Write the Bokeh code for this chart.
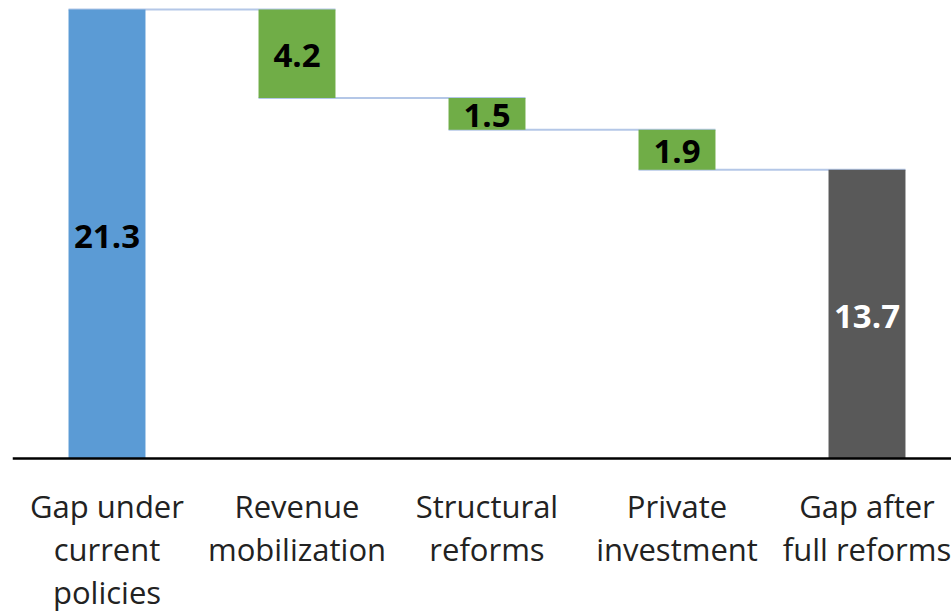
from bokeh.plotting import figure
from bokeh.models import ColumnDataSource, Range1d, Span
from bokeh.core.properties import value
from bokeh.embed import file_html
from bokeh.resources import INLINE

categories = ["Gap under\ncurrent\npolicies", "Revenue\nmobilization", "Structural\nreforms",
              "Private\ninvestment", "Gap after\nfull reforms"]
changes = [21.3, -4.2, -1.5, -1.9, 13.7]
kinds = ["total", "step", "step", "step", "total"]
value_labels = ["21.3", "4.2", "1.5", "1.9", "13.7"]
colors = {"total_first": "#5b9bd5", "step": "#70ad47", "total_last": "#595959"}

# waterfall geometry from data
bottoms, tops, levels = [], [], []
level = 0.0
for c, k in zip(changes, kinds):
    if k == "total":
        b, t = 0.0, c
        level = c
    else:
        new = level + c
        b, t = min(level, new), max(level, new)
        level = new
    bottoms.append(b)
    tops.append(t)
    levels.append(level)

xs = list(range(len(categories)))
fills = [colors["total_first"]] + [colors["step"]] * 3 + [colors["total_last"]]
text_cols = ["black", "black", "black", "black", "white"]
mids = [(b + t) / 2 for b, t in zip(bottoms, tops)]

W = 0.405
cx0 = [i - W / 2 for i in xs[:-1]]
cx1 = [i + 1 + W / 2 for i in xs[:-1]]
cy = [levels[i] for i in xs[:-1]]

ppu = 449 / 21.3
p = figure(width=951, height=614, output_backend="svg", toolbar_location=None,
           x_range=Range1d(-94.5 / 190, (939 - 94.5) / 190),
           y_range=Range1d(-156 / ppu, 21.3 + 9 / ppu),
           min_border_left=12, min_border_right=0, min_border_top=0, min_border_bottom=0)
p.axis.visible = False
p.grid.visible = False
p.outline_line_color = None
p.background_fill_color = "white"

p.segment(x0=cx0, y0=cy, x1=cx1, y1=cy, line_color="#b4c7e7", line_width=2)

src = ColumnDataSource(dict(x=xs, bottom=bottoms, top=tops, fill=fills, mid=mids,
                            lab=value_labels, tc=text_cols, cat=categories,
                            zero=[0] * len(xs)))
p.vbar(x="x", width=W, bottom="bottom", top="top", fill_color="fill", line_color=None, source=src)

p.text(x="x", y="mid", text="lab", text_color="tc", text_align="center", text_baseline="middle",
       y_offset=2, text_font=value("Open Sans"), text_font_style="bold", text_font_size="33px",
       source=src)

p.add_layout(Span(location=0, dimension="width", line_color="black", line_width=2.5))

p.text(x="x", y="zero", text="cat", text_color="#222222", text_align="center", text_baseline="top",
       y_offset=26, text_font=value("Open Sans"), text_font_size="31px", text_line_height=1.03,
       source=src)

open("out.html", "w").write(file_html(p, INLINE))
